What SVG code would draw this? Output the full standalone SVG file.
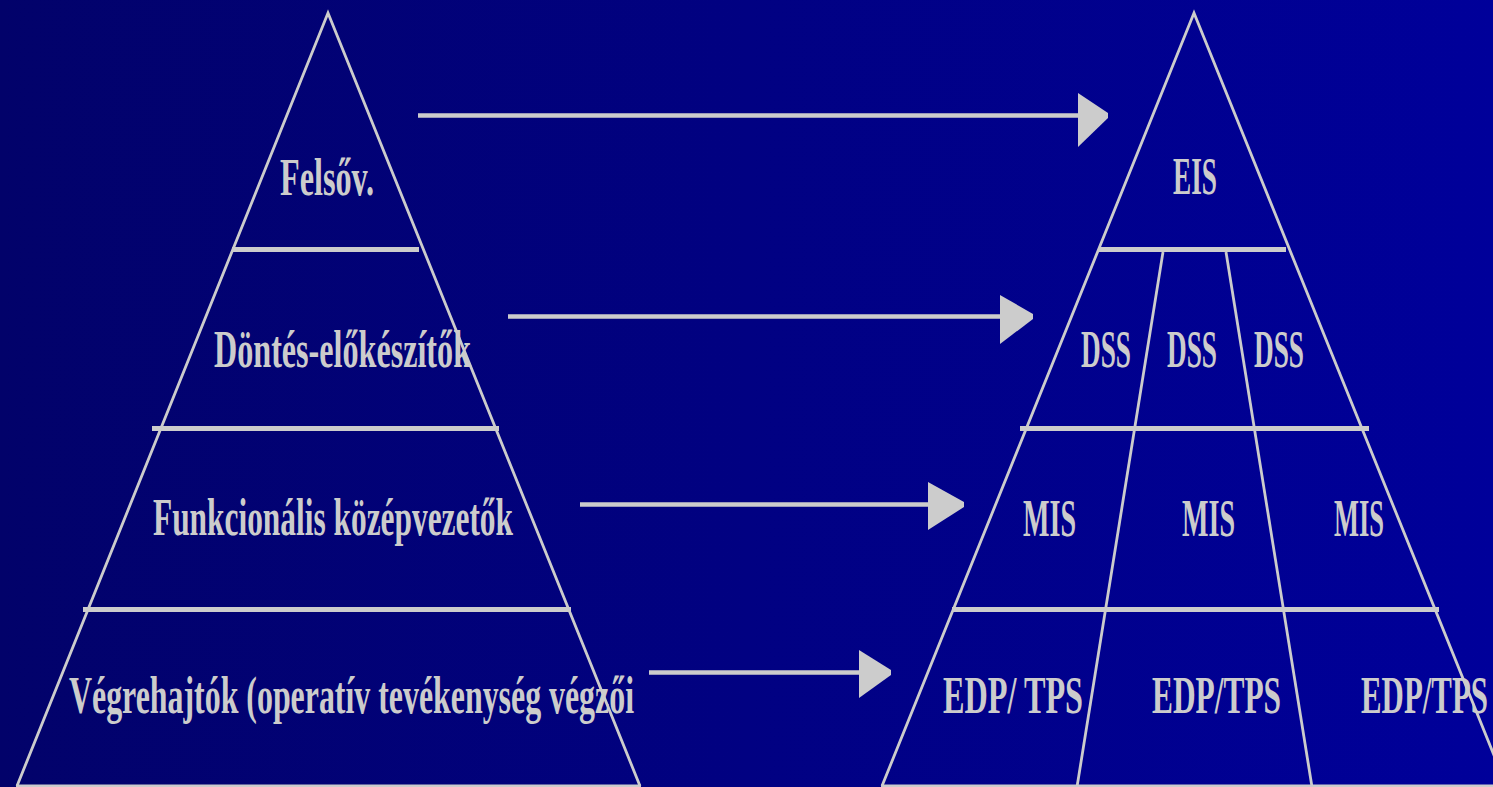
<svg xmlns="http://www.w3.org/2000/svg" width="1493" height="787" viewBox="0 0 1493 787">
  <defs>
    <linearGradient id="bg" x1="0" y1="0" x2="1" y2="0">
      <stop offset="0" stop-color="#02026a"/>
      <stop offset="1" stop-color="#00009a"/>
    </linearGradient>
    <style>
      .edge { fill: none; stroke: #cccccc; stroke-width: 2.8; }
      .bar { fill: none; stroke: #cccccc; stroke-width: 5; }
      .split { fill: none; stroke: #cccccc; stroke-width: 2.8; }
      .shaft { fill: none; stroke: #cccccc; stroke-width: 4.6; }
      .head { fill: #cccccc; }
      .lbl { fill: #cccccc; font-family: "Liberation Serif", "DejaVu Serif", serif; font-size: 52px; font-weight: bold; }
    </style>
  </defs>

  <rect x="0" y="0" width="1493" height="787" fill="url(#bg)"/>

  <!-- Left pyramid: organisational levels -->
  <g id="pyramid-levels">
    <polyline class="edge" points="17,786 328,13 640,786"/>
    <line class="bar" x1="232" y1="249.5" x2="419" y2="249.5"/>
    <line class="bar" x1="152" y1="428.5" x2="499" y2="428.5"/>
    <line class="bar" x1="83" y1="609.5" x2="571" y2="609.5"/>
    <line class="edge" x1="16" y1="786" x2="641" y2="786" style="stroke-width:3"/>
  </g>

  <!-- Right pyramid: information systems -->
  <g id="pyramid-systems">
    <polyline class="edge" points="882,786 1194,13 1500,770"/>
    <line class="bar" x1="1098" y1="249.5" x2="1286" y2="249.5"/>
    <line class="bar" x1="1020" y1="428.5" x2="1369" y2="428.5"/>
    <line class="bar" x1="952" y1="609.5" x2="1439" y2="609.5"/>
    <line class="edge" x1="881" y1="786" x2="1493" y2="786" style="stroke-width:3"/>
    <line class="split" x1="1163" y1="252" x2="1077" y2="787"/>
    <line class="split" x1="1226" y1="252" x2="1312" y2="787"/>
  </g>

  <!-- Level labels -->
  <g id="level-top"><text class="lbl" x="280" y="195" textLength="94" lengthAdjust="spacingAndGlyphs">Felsőv.</text></g>
  <g id="level-analysts"><text class="lbl" x="214" y="367" textLength="257" lengthAdjust="spacingAndGlyphs">Döntés-előkészítők</text></g>
  <g id="level-middle"><text class="lbl" x="153" y="535" textLength="360" lengthAdjust="spacingAndGlyphs">Funkcionális középvezetők</text></g>
  <g id="level-operative"><text class="lbl" x="69" y="713" textLength="565" lengthAdjust="spacingAndGlyphs">Végrehajtók (operatív tevékenység végzői</text></g>

  <!-- System labels -->
  <g id="sys-eis"><text class="lbl" x="1173" y="194" textLength="44" lengthAdjust="spacingAndGlyphs">EIS</text></g>
  <g id="sys-dss-1"><text class="lbl" x="1081" y="367" textLength="50" lengthAdjust="spacingAndGlyphs">DSS</text></g>
  <g id="sys-dss-2"><text class="lbl" x="1167" y="367" textLength="50" lengthAdjust="spacingAndGlyphs">DSS</text></g>
  <g id="sys-dss-3"><text class="lbl" x="1254" y="367" textLength="50" lengthAdjust="spacingAndGlyphs">DSS</text></g>
  <g id="sys-mis-1"><text class="lbl" x="1023" y="536" textLength="53" lengthAdjust="spacingAndGlyphs">MIS</text></g>
  <g id="sys-mis-2"><text class="lbl" x="1182" y="536" textLength="53" lengthAdjust="spacingAndGlyphs">MIS</text></g>
  <g id="sys-mis-3"><text class="lbl" x="1334" y="536" textLength="50" lengthAdjust="spacingAndGlyphs">MIS</text></g>
  <g id="sys-tps-1"><text class="lbl" x="943" y="713" textLength="140" lengthAdjust="spacingAndGlyphs">EDP/ TPS</text></g>
  <g id="sys-tps-2"><text class="lbl" x="1152" y="713" textLength="129" lengthAdjust="spacingAndGlyphs">EDP/TPS</text></g>
  <g id="sys-tps-3"><text class="lbl" x="1361" y="713" textLength="127" lengthAdjust="spacingAndGlyphs">EDP/TPS</text></g>

  <!-- Mapping arrows from levels to systems -->
  <g id="connectors">
    <line class="shaft" x1="418" y1="115.5" x2="1080" y2="115.5"/>
    <polygon class="head" points="1078,93 1108,113 1108,118 1078,147"/>
    <line class="shaft" x1="508" y1="316.5" x2="1002" y2="316.5"/>
    <polygon class="head" points="1000,295 1033,314 1033,319 1000,344"/>
    <line class="shaft" x1="580" y1="504.5" x2="930" y2="504.5"/>
    <polygon class="head" points="928,482 964,502 964,507 928,530"/>
    <line class="shaft" x1="649" y1="672.5" x2="861" y2="672.5"/>
    <polygon class="head" points="859,650 891,670 891,675 859,698"/>
  </g>
</svg>
